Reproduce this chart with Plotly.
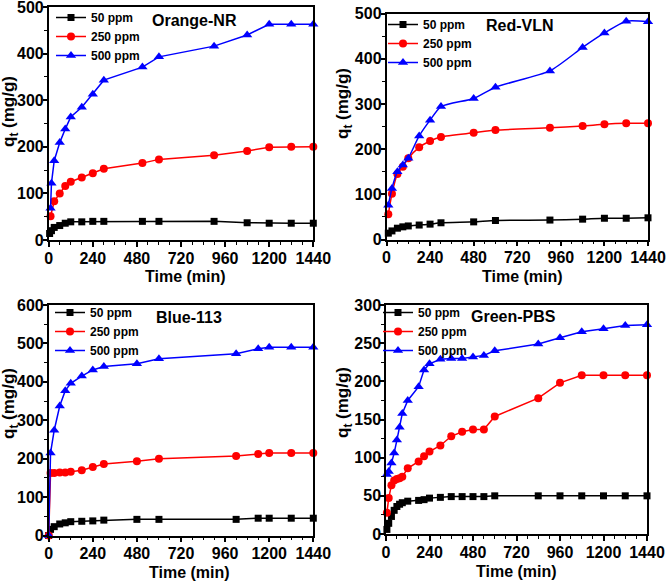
import plotly.graph_objects as go

W, H = 666, 581
FONT = "Liberation Sans"

# ---------------- data ----------------
panel_titles = ["Orange-NR", "Red-VLN", "Blue-113", "Green-PBS"]
series_names = ["50 ppm", "250 ppm", "500 ppm"]

# Orange-NR
on_t_50 = [5, 15, 30, 60, 90, 120, 180, 240, 300, 510, 600, 900, 1080, 1200, 1320, 1440]
on_q_50 = [14, 20, 27, 31, 36, 39, 39, 40, 40, 40, 40, 40, 37, 36, 36, 36]
on_t_250 = [10, 30, 60, 90, 120, 180, 240, 300, 510, 600, 900, 1080, 1200, 1320, 1440]
on_q_250 = [51, 83, 100, 116, 125, 134, 143, 153, 165, 173, 182, 191, 199, 200, 200]
on_t_500 = [10, 15, 30, 60, 90, 120, 180, 240, 300, 510, 600, 900, 1080, 1200, 1320, 1440]
on_q_500 = [68, 122, 170, 209, 238, 264, 285, 313, 343, 371, 393, 416, 440, 463, 463, 463]

# Red-VLN
rv_t = [10, 30, 60, 90, 120, 180, 240, 300, 480, 600, 900, 1080, 1200, 1320, 1440]
rv_q_50 = [14, 19, 25, 28, 30, 32, 34, 37, 39, 42, 43, 45, 47, 47, 48]
rv_q_250 = [56, 101, 145, 161, 180, 204, 218, 227, 236, 242, 247, 251, 255, 257, 257]
rv_q_500 = [76, 113, 150, 165, 180, 229, 264, 294, 312, 337, 373, 425, 457, 483, 482]

# Blue-113
bl_t = [0, 10, 30, 60, 90, 120, 180, 240, 300, 480, 600, 1020, 1140, 1200, 1320, 1440]
bl_q_50 = [0, 16, 23, 30, 33, 36, 37, 38, 40, 42, 42, 42, 45, 45, 45, 45]
bl_q_250 = [0, 163, 163, 164, 164, 166, 170, 178, 186, 193, 200, 207, 212, 215, 215, 215]
bl_q_500 = [0, 215, 274, 337, 377, 396, 415, 431, 440, 447, 460, 473, 486, 490, 490, 490]

# Green-PBS
gp_t = [5, 15, 30, 45, 60, 75, 90, 120, 180, 210, 240, 300, 360, 420, 480, 540, 600,
        840, 960, 1080, 1200, 1320, 1440]
gp_q_50 = [6, 14, 23, 31, 36, 39, 41, 43, 44, 45, 47, 48, 49, 49, 49, 49, 50,
           50, 50, 50, 50, 50, 50]
gp_q_250 = [28, 47, 64, 70, 72, 73, 75, 86, 95, 102, 108, 116, 128, 134, 137, 137, 154,
            178, 198, 208, 208, 208, 208]
gp_q_500 = [78, 82, 93, 106, 123, 140, 158, 175, 193, 215, 223, 229, 230, 230, 232, 234, 240,
            249, 257, 265, 269, 273, 274]

panels = [
    [(on_t_50, on_q_50), (on_t_250, on_q_250), (on_t_500, on_q_500)],
    [(rv_t, rv_q_50), (rv_t, rv_q_250), (rv_t, rv_q_500)],
    [(bl_t, bl_q_50), (bl_t, bl_q_250), (bl_t, bl_q_500)],
    [(gp_t, gp_q_50), (gp_t, gp_q_250), (gp_t, gp_q_500)],
]
y_ranges = [(0, 500), (0, 500), (0, 600), (0, 300)]
y_dticks = [100, 100, 100, 50]

# ---------------- layout geometry (pixels) ----------------
# plot-area boxes: left, right, top, bottom
boxes = [
    (48.7, 313.3, 7.0, 240.0),
    (386.5, 648.0, 13.5, 239.5),
    (48.7, 313.3, 305.0, 535.5),
    (386.0, 647.0, 305.0, 534.0),
]
colors = ["#000000", "#ff0000", "#0000ff"]
symbols = ["square", "circle", "triangle-up"]
msizes = [7, 8, 9]
shapes_line = ["linear", "spline", "linear", "linear"]

fig = go.Figure()

def px_x(p):
    return p / W

def px_y(p):
    return 1 - p / H

for i, series in enumerate(panels):
    ax = "" if i == 0 else str(i + 1)
    leg = "legend" if i == 0 else f"legend{i + 1}"
    for j, (t, q) in enumerate(series):
        fig.add_trace(go.Scatter(
            x=t, y=q, name=series_names[j],
            mode="lines+markers",
            line=dict(color=colors[j], width=1.5, shape=shapes_line[i], smoothing=0.6),
            marker=dict(symbol=symbols[j], size=msizes[j], color=colors[j]),
            xaxis="x" + ax, yaxis="y" + ax,
            legend=leg, cliponaxis=False,
        ))

layout = dict(
    width=W, height=H,
    margin=dict(l=0, r=0, t=0, b=0, autoexpand=False),
    paper_bgcolor="white", plot_bgcolor="white",
    font=dict(family=FONT, color="black"),
    showlegend=True,
)

tickfont = dict(family=FONT, size=16, color="black", weight="bold")

legend_pos = [(51, 3), (383, 10), (50, 298), (378, 298)]

annotations = []
for i in range(4):
    l, r, t, b = boxes[i]
    ax = "" if i == 0 else str(i + 1)
    layout["xaxis" + ax] = dict(
        domain=[px_x(l), px_x(r)], anchor="y" + ax,
        range=[0, 1440], tickmode="linear", tick0=0, dtick=240,
        ticks="outside", ticklen=5, tickwidth=1.5, tickcolor="black",
        minor=dict(ticks="outside", ticklen=3, tickwidth=1, dtick=60, tickcolor="black"),
        showline=True, linecolor="black", linewidth=1.5, mirror=True,
        showgrid=False, zeroline=False, tickfont=tickfont,
        ticklabelstandoff=-2, ticklabeloverflow="allow",
    )
    layout["yaxis" + ax] = dict(
        domain=[px_y(b), px_y(t)], anchor="x" + ax,
        range=list(y_ranges[i]), tickmode="linear", tick0=0, dtick=y_dticks[i],
        ticks="outside", ticklen=4, tickwidth=1.5, tickcolor="black",
        minor=dict(ticks="outside", ticklen=3, tickwidth=1, dtick=y_dticks[i] / 2, tickcolor="black"),
        showline=True, linecolor="black", linewidth=1.5, mirror=True,
        showgrid=False, zeroline=False, tickfont=tickfont,
        ticklabelstandoff=-4, ticklabeloverflow="allow",
    )
    lx, ly = legend_pos[i]
    layout["legend" if i == 0 else f"legend{i + 1}"] = dict(
        x=px_x(lx), y=px_y(ly), xanchor="left", yanchor="top",
        bgcolor="rgba(0,0,0,0)", borderwidth=0,
        font=dict(family=FONT, size=12, color="black", weight="bold"),
        itemwidth=30, tracegroupgap=0,
    )

# panel titles
title_pos = [(194, 20), (520, 25), (189, 317), (513, 316)]
for i, (x, y) in enumerate(title_pos):
    annotations.append(dict(
        text=panel_titles[i], x=px_x(x), y=px_y(y), xref="paper", yref="paper",
        showarrow=False, xanchor="center", yanchor="middle",
        font=dict(family=FONT, size=16, color="black", weight="bold"),
    ))

# x-axis titles
xt_pos = [(185, 276), (522, 276), (189, 572), (516, 571)]
for (x, y) in xt_pos:
    annotations.append(dict(
        text="Time (min)", x=px_x(x), y=px_y(y), xref="paper", yref="paper",
        showarrow=False, xanchor="center", yanchor="middle",
        font=dict(family=FONT, size=16, color="black", weight="bold"),
    ))

# y-axis titles
yt_pos = [(10, 112), (344, 104), (10, 404), (344, 403)]
for (x, y) in yt_pos:
    annotations.append(dict(
        text="q<sub>t</sub> (mg/g)", x=px_x(x), y=px_y(y), xref="paper", yref="paper",
        showarrow=False, xanchor="center", yanchor="middle", textangle=-90,
        font=dict(family=FONT, size=17, color="black", weight="bold"),
    ))

layout["annotations"] = annotations
fig.update_layout(**layout)
fig.write_html(
    "out.html",
    config={"displayModeBar": False},
    post_script="document.body.style.margin='0';document.body.style.overflow='hidden';",
)
